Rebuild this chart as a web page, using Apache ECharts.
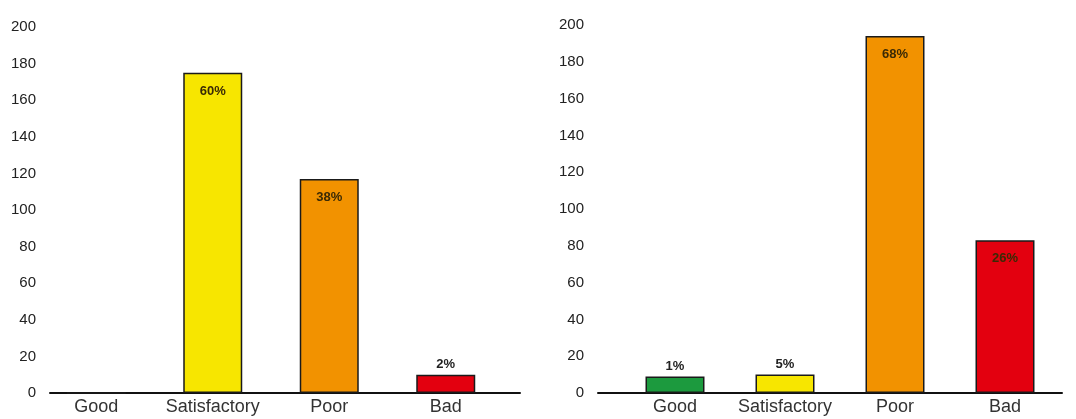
<!DOCTYPE html>
<html>
<head>
<meta charset="utf-8">
<script src="https://cdn.jsdelivr.net/npm/echarts@6/dist/echarts.min.js"></script>
<style>
  html, body { margin: 0; padding: 0; background: #fff; }
  #chart { width: 1076px; height: 419px; }
</style>
</head>
<body>
<div id="chart"></div>
<script>
// Condition categories shared by both panels
const categories = ['Good', 'Satisfactory', 'Poor', 'Bad'];
const barColors = ['#1c9a3e', '#f7e600', '#f29200', '#e3000f'];

// Left panel: counts per condition and their shares
const leftValues = [0, 175, 117, 10];
const leftShares = ['', '60%', '38%', '2%'];

// Right panel: counts per condition and their shares
const rightValues = [9, 10, 194, 83];
const rightShares = ['1%', '5%', '68%', '26%'];

const yTicks = { min: 0, max: 200, interval: 20 };
const fontFamily = 'Liberation Sans, Arial, sans-serif';

function buildData(values, shares) {
  return values.map((v, i) => {
    const tall = v > 40;
    return {
      value: v,
      itemStyle: { color: barColors[i] },
      label: {
        show: shares[i] !== '' && v > 0,
        formatter: shares[i],
        position: tall ? 'insideTop' : 'top',
        distance: tall ? 12 : 4,
        color: tall ? '#3a2a05' : '#222',
        fontWeight: 'bold',
        fontSize: 13,
        fontFamily: fontFamily
      }
    };
  });
}

function yAxisFor(gridIndex, margin, lift) {
  return {
    type: 'value', gridIndex: gridIndex,
    min: yTicks.min, max: yTicks.max, interval: yTicks.interval,
    axisLine: { show: false }, axisTick: { show: false }, splitLine: { show: false },
    axisLabel: {
      margin: margin, color: '#222', fontSize: 15,
      fontFamily: fontFamily,
      padding: [0, 0, lift, 0]
    }
  };
}

function xAxisFor(gridIndex) {
  return {
    type: 'category', gridIndex: gridIndex, data: categories,
    axisLine: { show: false },
    axisTick: { show: false },
    axisLabel: {
      interval: 0, margin: 5, color: '#333', fontSize: 18,
      fontFamily: fontFamily
    }
  };
}

// Baseline axes: their own grids so the rule can run wider than the bar bands
function baseXAxis(gridIndex) {
  return {
    type: 'category', gridIndex: gridIndex, data: categories,
    axisLine: { lineStyle: { color: '#111', width: 2 } },
    axisTick: { show: false }, axisLabel: { show: false }
  };
}
function baseYAxis(gridIndex) {
  return {
    type: 'value', gridIndex: gridIndex, min: 0, max: 200, show: false
  };
}

const chart = echarts.init(document.getElementById('chart'), null, { renderer: 'canvas' });
chart.setOption({
  animation: false,
  backgroundColor: '#ffffff',
  grid: [
    { left: 38, right: 572, top: 27, bottom: 26 },
    { left: 620, right: 16, top: 25, bottom: 26 },
    { left: 50, right: 556, top: 27, bottom: 26 },
    { left: 598, right: 14, top: 25, bottom: 26 }
  ],
  xAxis: [xAxisFor(0), xAxisFor(1), baseXAxis(2), baseXAxis(3)],
  yAxis: [yAxisFor(0, 2, 12), yAxisFor(1, 36, 2), baseYAxis(2), baseYAxis(3)],
  series: [
    {
      type: 'bar', xAxisIndex: 0, yAxisIndex: 0, barWidth: 59,
      itemStyle: { borderColor: '#1a1a1a', borderWidth: 1.5 },
      data: buildData(leftValues, leftShares)
    },
    {
      type: 'bar', xAxisIndex: 1, yAxisIndex: 1, barWidth: 59,
      itemStyle: { borderColor: '#1a1a1a', borderWidth: 1.5 },
      data: buildData(rightValues, rightShares)
    }
  ]
});
</script>
</body>
</html>
